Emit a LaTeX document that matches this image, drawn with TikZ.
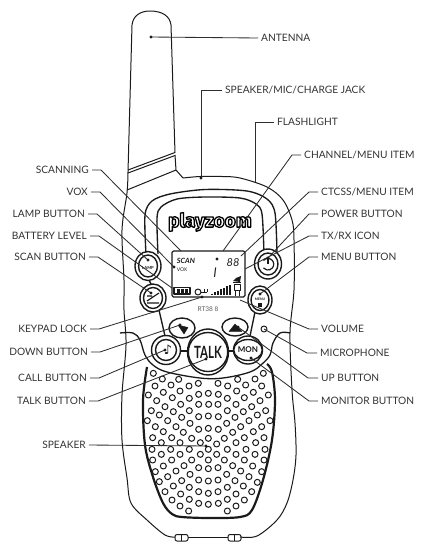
\documentclass[tikz,border=0pt]{standalone}
\usepackage{fontspec}
\setmainfont{Lato}
\newfontfamily\symf{DejaVu Sans}
\newfontfamily\logof{Fira Sans}
\usetikzlibrary{calc,shapes.geometric}
\definecolor{ink}{HTML}{1A1A1A}
\definecolor{labelc}{HTML}{333333}
\definecolor{leadc}{HTML}{2E2E2E}
\tikzset{
 every picture/.style={line join=round},
 body/.style={draw=ink,line width=1pt},
 plate/.style={draw=ink,line width=1.35pt},
 thick panel/.style={draw=ink,line width=2.2pt},
 btnout/.style={draw=ink,fill=white,line width=1.4pt,ellipse,inner sep=0pt},
 lead/.style={draw=leadc,line width=0.85pt},
 ll/.style={anchor=east,font=\fontsize{10.2}{10}\selectfont,text=labelc,inner ysep=0pt,inner xsep=3pt,text height=7pt,text depth=0pt},
 lr/.style={anchor=west,font=\fontsize{10.2}{10}\selectfont,text=labelc,inner ysep=0pt,inner xsep=3pt,text height=7pt,text depth=0pt},
 hole/.style={draw=ink,line width=1pt,fill=white},
 tiny/.style={font=\fontsize{4.2}{4}\selectfont\bfseries,text=ink,inner sep=0pt},
}
\begin{document}
\begin{tikzpicture}[x=1pt,y=-1pt]
\useasboundingbox (0,0) rectangle (424,550);
% antenna
\draw[body] (128,172) -- (132,25) .. controls (133,16) and (140,11) .. (150,11) .. controls (162,11) and (170,16) .. (171,25) -- (175,153);
\draw[body] (128,170) -- (175,152.5);
\draw[body] (128,173) -- (175,155.5);
\draw[body] (175,155) -- (176,170) -- (183,178);
\draw[body] (127,190) -- (176,170);
% body outline
\draw[body] plot[smooth,tension=0.55] coordinates {(183,178) (200,176.5) (222,176.5) (240,178) (267,187) (283,200) (292,220) (294,240) (294,290) (290,333) (292,390) (295,423) (296,455) (293,480) (287,503) (277,520) (257,536) (240,537)};
\draw[body] plot[smooth,tension=0.55] coordinates {(128,172) (127,193) (122,230) (124,280) (124,310) (126,345) (122,395) (122,440) (127,478) (131,503) (147,520) (165,535) (175,537)};
\draw[body] (188,537) -- (228,537);
% feet
\foreach \fx in {175,228}{
 \draw[body,rounded corners=2pt] (\fx,534.5) rectangle (\fx+13,541);
 \draw[body] (\fx+6.5,534.5) -- (\fx+6.5,541);
}
% lower body seam
\draw[body,line width=1.3pt] plot[smooth,tension=0.6] coordinates {(120,333) (133,333) (140,340) (145,355) (153,365) (167,372) (200,378) (223,378) (250,372) (262,364) (270,355) (273,343) (280,333) (290,333)};
% speaker panel
\draw[thick panel] plot[smooth,tension=0.55] coordinates {(147,367) (143,400) (145,445) (153,477) (163,503) (172,514) (182,517) (210,518) (240,517) (252,510) (263,480) (272,440) (275,400) (272,372) (267,364)};
\foreach \hx/\hy in {190/10,520/10,217/27,266/28,443/28,495/27,325/40,384/40,195/48,243/45,297/48,413/48,467/45,515/48,220/67,270/63,440/63,490/67,175/75,326/73,355/70,385/73,535/75,298/85,412/85,200/92,247/83,463/83,510/92,272/103,326/103,356/103,384/103,438/103,225/110,485/110,184/122,298/122,412/122,527/122,250/125,460/125,208/135,502/135,275/142,326/140,355/138,385/140,435/142,172/152,233/152,477/152,540/152,300/160,410/160,196/170,258/170,452/170,515/170,326/178,355/175,385/178,220/185,280/187,428/187,490/185,188/203,245/203,305/205,403/205,463/203,522/203,355/205,214/218,270/218,331/218,380/222,438/218,497/218,186/238,242/238,298/238,355/238,412/238,468/238,525/238,214/253,270/253,331/253,380/253,438/253,495/253,188/270,245/270,305/270,355/270,403/270,463/270,522/270,220/288,282/287,428/287,488/288,326/293,355/296,384/293,196/305,258/303,452/303,515/305,300/313,410/313,233/320,477/320,208/335,275/332,435/332,502/337,326/330,355/333,384/330,250/348,298/352,412/352,460/348,225/365,272/372,326/365,355/370,384/365,438/372,485/365,246/390,298/388,412/388,463/390,326/400,355/403,385/400,270/408,438/408,296/423,412/423}{
 \draw[hole] ({90+\hx/3},{370+\hy/3}) circle (3pt);
}
% faceplate
\draw[plate] plot[smooth,tension=0.5] coordinates {(146,254) (145,215) (152,201) (170,194) (205,189.5) (247,191) (267,199) (275,213) (277,254)};
\draw[plate] plot[smooth,tension=0.5] coordinates {(158,254) (157,218) (161,207) (177,199) (205,197) (240,198) (256,204) (262,214) (264,254)};
% LCD
\draw[draw=ink,line width=1.2pt,rounded corners=1.5pt] (172,251) rectangle (245,297);
\node[inner sep=0pt,font=\fontsize{7.2}{7}\selectfont\bfseries\itshape,text=ink] (scan) at (186,260.5) {SCAN};
\node[inner sep=0pt,font=\fontsize{5}{5}\selectfont,text=ink] (vox) at (182,269.5) {VOX};
\node[inner sep=0pt,font=\fontsize{13}{13}\selectfont\itshape,text=ink] (chan) at (215,273) {l};
\fill[ink] (217,259) circle (1.7);
\node[inner sep=0pt,font=\fontsize{11}{11}\selectfont\itshape,text=ink] (digits) at (233,263) {88};
% battery
\draw[ink,line width=1.3pt] (174,287.5) rectangle (190,294);
\foreach \bx in {177,181,185}{\fill[ink] (\bx,288.5) rectangle ++(2.5,4.5);}
% key
\draw[ink,line width=1pt] (198,292) circle (3);
\draw[ink,line width=1pt] (201,292) -- (207,292) (204,292) -- (204,289) (207,292) -- (207,289);
% signal
\foreach \i in {0,...,6}{\fill[ink] ({211+\i*3},{294.5-1-\i*1.5}) rectangle ++(2.2,{1+\i*1.5});}
% figure
\fill[ink] (236,278) -- (241,276) -- (240,282) -- (233,281) -- cycle;
\draw[ink,line width=0.8pt] (233,282) -- (241,282) (234,284) rectangle (240,290) (235,290) -- (235,296) (239,290) -- (239,296);
\node[inner sep=0pt,font=\fontsize{6.5}{6}\selectfont,text=black!65] (model) at (208,309) {RT38 8};
% logo
\node[inner sep=0pt,font=\logof\fontsize{19}{19}\selectfont\bfseries,text=white] (logo) at (210,222) {\special{pdf:code 2 Tr 1.3 w 0 0 0 RG}playzoom\special{pdf:code 0 Tr}};
% connector bars
\draw[plate] (149,280) -- (152,286);
\draw[plate] (159,310) -- (165,336);
\draw[plate] (255,312) -- (250,336);
\draw[plate] (180,351) -- (188,351) (228,351) -- (234,351);
% buttons
\node[btnout,minimum width=26pt,minimum height=29pt] (lamp) at (148,266) {};
\node[btnout,minimum width=19pt,minimum height=22pt] (lampi) at (148,266) {};
\node[tiny] (lampt) at (148,267.5) {LAMP};
\node[btnout,minimum width=26pt,minimum height=28pt] (scanb) at (153,298) {};
\node[btnout,minimum width=19pt,minimum height=21pt] (scani) at (153,298) {};
\draw[ink,line width=1.2pt] (147,301) -- (159,293) (147,296) -- (152,296) (147,303) -- (159,303);
\node[btnout,minimum width=27pt,minimum height=30pt] (power) at (268,264) {};
\node[btnout,minimum width=20pt,minimum height=22pt] (poweri) at (268,264) {};
\draw[ink,line width=1.2pt] (263.5,260.5) arc[start angle=-140,end angle=140,radius=5.8];
\draw[ink,line width=1.2pt] (268,257) -- (268,264);
\node[btnout,minimum width=24pt,minimum height=28pt] (menu) at (260,300) {};
\node[btnout,minimum width=18pt,minimum height=21pt] (menui) at (260,300) {};
\node[tiny] (menut) at (260,299) {\fontsize{3.4}{3}\selectfont MENU};
\fill[ink] (258,303) rectangle (262,307);
\node[btnout,minimum width=26pt,minimum height=20pt] (down) at (182,328) {};
\draw[ink,fill=ink] (178,325) -- (188,327.5) -- (184,334) -- cycle;
\node[btnout,minimum width=26pt,minimum height=18pt] (up) at (235,327) {};
\draw[ink,fill=ink] (229,331.5) -- (235,324) -- (242,331.5) -- cycle;
\node[btnout,minimum width=6pt,minimum height=6pt,line width=1pt] (mic) at (264,329) {};
\node[btnout,minimum width=29pt,minimum height=29pt] (call) at (166,350) {};
\node[btnout,minimum width=21pt,minimum height=21pt] (calli) at (166,350) {};
\node[inner sep=0pt,font=\symf\fontsize{13}{13}\selectfont,text=ink] (note) at (168,350) {♪};
\node[btnout,minimum width=41pt,minimum height=46pt] (talk) at (208,352) {};
\node[btnout,minimum width=34pt,minimum height=39pt,font=\fontsize{13.5}{13}\selectfont\bfseries,text=ink] (talki) at (208,352) {\scalebox{0.85}[1.25]{TALK}};
\node[btnout,minimum width=29pt,minimum height=28pt] (mon) at (248,350) {};
\node[btnout,minimum width=23pt,minimum height=21pt,font=\fontsize{8}{8}\selectfont\bfseries,text=ink] (moni) at (248,350) {MON};
% labels
\node[lr] (antenna) at (258,38) {ANTENNA};
\node[lr] (jack) at (222,90) {SPEAKER/MIC/CHARGE JACK};
\node[lr] (flash) at (274,122) {FLASHLIGHT};
\node[lr] (channel) at (301,155) {CHANNEL/MENU ITEM};
\node[lr] (ctcss) at (318,192) {CTCSS/MENU ITEM};
\node[lr] (powerl) at (318,214) {POWER BUTTON};
\node[lr] (txrx) at (318,236) {TX/RX ICON};
\node[lr] (menul) at (318,257) {MENU BUTTON};
\node[lr] (volume) at (318,329) {VOLUME};
\node[lr] (micl) at (317,353) {MICROPHONE};
\node[lr] (upl) at (318,378) {UP BUTTON};
\node[lr] (monl) at (318,401) {MONITOR BUTTON};
\node[ll] (scanning) at (92,170) {SCANNING};
\node[ll] (voxl) at (91,192) {VOX};
\node[ll] (lampl) at (88,214) {LAMP BUTTON};
\node[ll] (batt) at (90,236) {BATTERY LEVEL};
\node[ll] (scanl) at (89,257) {SCAN BUTTON};
\node[ll] (keyl) at (90,329) {KEYPAD LOCK};
\node[ll] (downl) at (91,352) {DOWN BUTTON};
\node[ll] (calll) at (90,378) {CALL BUTTON};
\node[ll] (talkl) at (89,401) {TALK BUTTON};
\node[ll] (speakerl) at (89,445) {SPEAKER};
% end points
\coordinate (eAnt) at (151,37);
\coordinate (eJack) at (201,178);
\coordinate (eFlash) at (255,182);
\coordinate (eChan) at (223,251);
\coordinate (eCt) at (241,256);
\coordinate (ePow) at (268,258);
\coordinate (eTx) at (245,269);
\coordinate (eMenu) at (260,294);
\coordinate (eVol) at (240,300);
\coordinate (eMic) at (264,329);
\coordinate (eUp) at (238,327);
\coordinate (eMon) at (251,358);
\coordinate (eScn) at (181,251);
\coordinate (eVox) at (174,267);
\coordinate (eLamp) at (148,260);
\coordinate (eBat) at (172,288);
\coordinate (eScan) at (151,293);
\coordinate (eKey) at (202,297);
\coordinate (eDown) at (180,325);
\coordinate (eCall) at (165,350);
\coordinate (eTalk) at (206,359);
\coordinate (eSpk) at (206,446);
% leaders
\draw[lead] (antenna.west) -- (eAnt);
\draw[lead] (jack.west) -| (eJack);
\draw[lead] (flash.west) -| (eFlash);
\draw[lead] (channel.west) -- ++(-9,0) -- (eChan);
\draw[lead] (ctcss.west) -- ++(-9,0) -- (eCt);
\draw[lead] (powerl.west) -- ++(-9,0) -- (ePow);
\draw[lead] (txrx.west) -- ++(-9,0) -- (eTx);
\draw[lead] (menul.west) -- ++(-9,0) -- (eMenu);
\draw[lead] (volume.west) -- ++(-9,0) -- (eVol);
\draw[lead] (micl.west) -- ++(-10,0) -- (eMic);
\draw[lead] (upl.west) -- ++(-10,0) -- (eUp);
\draw[lead] (monl.west) -- ++(-9,0) -- (eMon);
\draw[lead] (scanning.east) -- ++(9,0) -- (eScn);
\draw[lead] (voxl.east) -- ++(9,0) -- (eVox);
\draw[lead] (lampl.east) -- ++(9,0) -- (eLamp);
\draw[lead] (batt.east) -- ++(9,0) -- (eBat);
\draw[lead] (scanl.east) -- ++(9,0) -- (eScan);
\draw[lead] (keyl.east) -- ++(9,0) -- (eKey);
\draw[lead] (downl.east) -- ++(9,0) -- (eDown);
\draw[lead] (calll.east) -- ++(9,0) -- (eCall);
\draw[lead] (talkl.east) -- ++(9,0) -- (eTalk);
\draw[lead] (speakerl.east) -- (eSpk);
\foreach \e in {eAnt,eJack,ePow,eVox,eLamp,eScan,eKey,eDown,eCall,eTalk,eSpk,eMon,eUp,eMenu}{
 \fill[ink] (\e) circle (1.6pt);
}
\end{tikzpicture}
\end{document}
